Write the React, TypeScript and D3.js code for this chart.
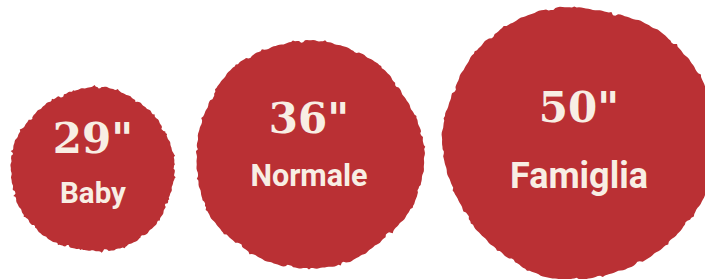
import React from "react";
import * as d3 from "d3";

// Data
const sizes = [29, 36, 50];
const sizeLabels = ['29"', '36"', '50"'];
const categories = ["Baby", "Normale", "Famiglia"];

const W = 705;
const H = 279;
const RED = "#BA3034";
const CREAM = "#F8EEE4";

// layout scales
const rScale = d3.scaleLinear().domain([29, 36, 50]).range([82, 114, 136]);
const cyScale = d3.scaleLinear().domain([29, 36, 50]).range([170, 155, 142]);
const numYOff = d3.scaleLinear().domain([29, 36, 50]).range([-17, -22, -20]);
const labYOff = d3.scaleLinear().domain([29, 36, 50]).range([33, 31, 46]);
const labSize = d3.scaleLinear().domain([29, 36, 50]).range([29.5, 30.5, 36]);
const GAP = 20;
const LEFT = 11;

function roughPath(r: number, seed: number) {
  const n = 360;
  const pts: [number, number][] = d3.range(n).map((i) => {
    const t = (i / n) * Math.PI * 2;
    const wob =
      r * (0.01 * Math.sin(3 * t + seed) + 0.008 * Math.sin(5 * t + seed * 2.3) + 0.005 * Math.sin(9 * t + seed * 0.7));
    const jag =
      0.35 * Math.sin(41 * t + seed * 3.1) +
      0.25 * Math.sin(83 * t + seed * 1.7) +
      (Math.sin(13 * t + seed) > 0.96 ? -1.5 : 0) +
      (Math.sin(23 * t + seed * 2) > 0.985 ? 1.2 : 0);
    return [t, r + wob + jag];
  });
  return d3.lineRadial<[number, number]>().angle((d) => d[0]).radius((d) => d[1]).curve(d3.curveLinearClosed)(pts) || "";
}

export default function App() {
  let left = LEFT;
  const circles = sizes.map((v, i) => {
    const r = rScale(v);
    const cx = left + r;
    left = cx + r + GAP;
    return { v, r, cx, cy: cyScale(v), label: sizeLabels[i], cat: categories[i], i };
  });
  return (
    <svg width={W} height={H} style={{ position: "fixed", left: 0, top: 0, background: "#fff" }}>
      {circles.map((c) => (
        <g key={c.i} transform={`translate(${c.cx},${c.cy})`}>
          <path d={roughPath(c.r, c.i * 1.9 + 0.5)} fill={RED} />
          <text
            y={numYOff(c.v)}
            textAnchor="middle"
            fill={CREAM}
            fontFamily="'DejaVu Serif', serif"
            fontWeight="bold"
            fontSize={42}
          >
            {c.label}
          </text>
          <text
            y={labYOff(c.v)}
            textAnchor="middle"
            fill={CREAM}
            fontFamily="Roboto, sans-serif"
            fontWeight={700}
            fontSize={labSize(c.v)}
          >
            {c.cat}
          </text>
        </g>
      ))}
    </svg>
  );
}
